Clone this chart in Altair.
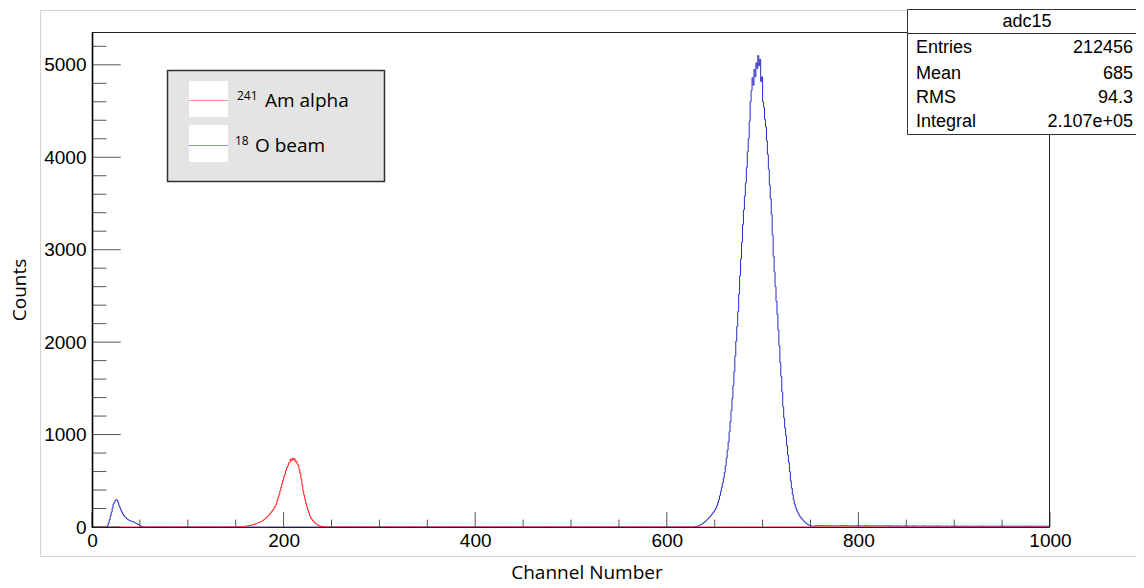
import altair as alt
import numpy as np
import pandas as pd

# ---------------- data ----------------
N_CH = 1000
X_MAX = 1000
Y_MAX = 5355

# 18O beam: small low-channel peak (starting at channel 14)
blue_low_start = 14
blue_low = [2, 6, 20, 45, 80, 120, 160, 205, 250, 270, 285, 295, 290, 260, 230, 205,
            180, 160, 140, 122, 110, 100, 90, 82, 75, 70, 66, 62, 58, 55, 50, 44, 38,
            32, 28, 22, 14, 7, 3]

# 18O beam: main peak (starting at channel 628)
blue_main_start = 628
blue_main = [2, 4, 6, 8, 11, 15, 19, 24, 30, 37,
             45, 54, 63, 72, 82, 92, 103, 115, 128, 142,
             156, 170, 186, 206, 230, 262, 296, 338, 385, 430,
             478, 530, 590, 665, 745, 830, 920, 1030, 1140, 1260,
             1390, 1530, 1680, 1850, 2010, 2170, 2330, 2520, 2720, 2900,
             3080, 3270, 3430, 3580, 3720, 3890, 4060, 4200, 4390, 4600,
             4720, 4860, 4780, 4950, 4870, 5020, 4960, 5100, 4990, 5060,
             4820, 4870, 4600, 4540, 4410, 4330, 4180, 4030, 3870, 3700,
             3550, 3380, 3160, 2930, 2760, 2600, 2440, 2300, 2130, 1960,
             1780, 1630, 1460, 1300, 1180, 1070, 990, 880, 780, 700,
             600, 500, 420, 350, 295, 250, 215, 190, 165, 145,
             125, 108, 96, 85, 72, 60, 50, 42, 34, 26,
             20, 16, 13, 11, 10, 9, 8]

# 18O beam: high-channel tail (starting at channel 755)
blue_tail_start = 755
blue_tail = [14, 12, 15, 11, 13, 12, 16, 10, 12, 14, 15, 11, 10, 13, 12, 15, 10, 12, 13, 11,
             10, 13, 12, 15, 11, 10, 13, 12, 14, 10, 11, 15, 12, 13, 10, 11, 14, 12, 10, 13,
             12, 10, 13, 11, 15, 12, 10, 13, 12, 11, 10, 14, 12, 15, 10, 11, 13, 10, 12, 13,
             11, 10, 13, 12, 10, 14, 11, 13, 10, 12, 11, 13, 10, 11, 14, 12, 10, 13, 11, 10,
             12, 11, 9, 11, 13, 9, 12, 10, 11, 9, 12, 10, 9, 13, 10, 11, 12, 9, 10, 9,
             10, 12, 9, 10, 13, 10, 9, 11, 10, 9, 10, 12, 9, 13, 10, 10, 9, 11, 10, 9,
             11, 10, 8, 10, 11, 8, 12, 10, 9, 8, 11, 10, 8, 9, 11, 8, 9, 12, 8, 9,
             9, 8, 11, 9, 8, 9, 12, 8, 10, 9, 8, 9, 11, 8, 9, 9, 11, 8, 10, 9,
             8, 9, 10, 8, 9, 11, 9, 8, 10, 9, 8, 9, 10, 9, 8, 11, 9, 8, 10, 9,
             9, 8, 10, 9, 11, 8, 9, 10, 8, 9, 9, 10, 8, 11, 9, 8, 10, 9, 8, 9,
             10, 8, 9, 11, 9, 8, 10, 9, 8, 9, 10, 8, 9, 11, 9, 8, 9, 10, 8, 9,
             9, 10, 8, 9, 11, 8, 9, 10, 9, 8, 9, 10, 8, 9, 11, 9, 8, 10, 9, 8,
             9, 10, 8, 9, 10]

# 241Am alpha peak (starting at channel 150)
red_start = 150
red_peak = [1, 1, 2, 2, 3, 3, 4, 5, 6, 7,
            8, 10, 12, 14, 16, 18, 20, 23, 26, 29,
            33, 37, 41, 45, 49, 53, 58, 64, 70, 78,
            86, 95, 104, 115, 126, 138, 150, 164, 178, 193,
            208, 225, 250, 285, 320, 350, 390, 430, 470, 505,
            545, 570, 610, 640, 660, 690, 700, 735, 720, 745,
            725, 738, 705, 712, 680, 665, 620, 580, 520, 455,
            390, 345, 300, 255, 218, 185, 155, 122, 100, 85,
            70, 58, 48, 38, 30, 24, 18, 13, 10, 7,
            5, 4, 3, 2, 1, 1]

x_major = [0, 200, 400, 600, 800, 1000]
x_minor = [v for v in range(50, 1000, 50) if v % 200 != 0]
y_major = [0, 1000, 2000, 3000, 4000, 5000]
y_minor = [v for v in range(200, 5400, 200) if v % 1000 != 0]

legend_labels = ["Am alpha", "O beam"]
legend_supers = ["241", "18"]
stats_title = "adc15"
stats_names = ["Entries", "Mean", "RMS", "Integral"]
stats_values = ["212456", "685", "94.3", "2.107e+05"]
x_title = "Channel Number"
y_title = "Counts"

# ---------------- build tables ----------------
ch = np.arange(N_CH + 1)
blue = np.zeros(N_CH + 1)
blue[blue_low_start:blue_low_start + len(blue_low)] = blue_low
blue[blue_main_start:blue_main_start + len(blue_main)] = blue_main
blue[blue_tail_start:blue_tail_start + len(blue_tail)] = blue_tail
blue[N_CH] = blue[N_CH - 1]
red = np.zeros(N_CH + 1)
red[red_start:red_start + len(red_peak)] = red_peak
red[N_CH] = red[N_CH - 1]
df_blue = pd.DataFrame({"ch": ch, "n": blue})
df_red = pd.DataFrame({"ch": ch, "n": red})

# ---------------- style ----------------
W, H = 958, 495
BLUE = "#2a2ac4"
RED = "#ff1a1a"
TICKFONT = "Liberation Sans"
TITLEFONT = "Open Sans"
TICKC = "#555555"

xs = alt.Scale(domain=[0, X_MAX], nice=False, zero=False)
ys = alt.Scale(domain=[0, Y_MAX], nice=False, zero=False)
xaxis = alt.Axis(values=x_major, title=None, ticks=False, domain=False, grid=False,
                 labelFont=TICKFONT, labelFontSize=19, labelColor="black",
                 labelPadding=4, labelFlush=False, format="d")
yaxis = alt.Axis(values=y_major, title=None, ticks=False, domain=False, grid=False,
                 labelFont=TICKFONT, labelFontSize=19, labelColor="black",
                 labelPadding=6, labelFlush=False, format="d")

one = pd.DataFrame({"k": [0]})


def txt(s, x, y, size, align="left", baseline="alphabetic", font=TICKFONT, angle=0):
    return alt.Chart(one).mark_text(text=s, align=align, baseline=baseline, font=font,
                                    fontSize=size, angle=angle, color="black").encode(
        x=alt.value(x), y=alt.value(y))


def box(x, x2, y, y2, fill, stroke, sw=1.0):
    return alt.Chart(one).mark_rect(fill=fill, stroke=stroke, strokeWidth=sw).encode(
        x=alt.value(x), x2=alt.value(x2), y=alt.value(y), y2=alt.value(y2))


def seg(x, x2, y, y2, color, sw=1.0):
    return alt.Chart(one).mark_rule(color=color, strokeWidth=sw).encode(
        x=alt.value(x), x2=alt.value(x2), y=alt.value(y), y2=alt.value(y2))


layers = []
# canvas border
CB = "#d4d4d4"
layers += [seg(-51.5, -51.5, -22, 524.5, CB), seg(-52, 816, -21.5, -21.5, CB),
           seg(-52, 1060, 524.5, 524.5, CB)]

# histograms
layers.append(alt.Chart(df_blue).mark_line(interpolate="step-after", color=BLUE, strokeWidth=1).encode(
    x=alt.X("ch:Q", scale=xs, axis=xaxis), y=alt.Y("n:Q", scale=ys, axis=yaxis)))
layers.append(alt.Chart(df_red).mark_line(interpolate="step-after", color=RED, strokeWidth=1).encode(
    x=alt.X("ch:Q", scale=xs, axis=xaxis), y=alt.Y("n:Q", scale=ys, axis=yaxis)))

# ticks (inside the frame, ROOT style)
layers.append(alt.Chart(pd.DataFrame({"v": y_major})).mark_rule(color=TICKC).encode(
    y=alt.Y("v:Q", scale=ys, axis=yaxis), x=alt.value(0), x2=alt.value(28.7)))
layers.append(alt.Chart(pd.DataFrame({"v": y_minor})).mark_rule(color=TICKC).encode(
    y=alt.Y("v:Q", scale=ys, axis=yaxis), x=alt.value(0), x2=alt.value(14.4)))
layers.append(alt.Chart(pd.DataFrame({"v": x_major})).mark_rule(color=TICKC).encode(
    x=alt.X("v:Q", scale=xs, axis=xaxis), y=alt.value(H), y2=alt.value(H - 14.9)))
layers.append(alt.Chart(pd.DataFrame({"v": x_minor})).mark_rule(color=TICKC).encode(
    x=alt.X("v:Q", scale=xs, axis=xaxis), y=alt.value(H), y2=alt.value(H - 7.4)))

# frame
layers.append(alt.Chart(one).mark_rect(fillOpacity=0, stroke="#222222", strokeWidth=1).encode(
    x=alt.value(0.5), x2=alt.value(W - 0.5), y=alt.value(0.5), y2=alt.value(H + 0.5)))
layers.append(seg(0.5, 0.5, 0, H + 1, "black", 1.6))

# legend
layers.append(box(75.5, 292.5, 38.5, 149.5, "#e4e4e4", "#333333", 1.5))
layers.append(box(97, 136, 49, 85, "white", "white", 0))
layers.append(box(97, 136, 93, 130, "white", "white", 0))
layers.append(seg(97, 136, 68.5, 68.5, "#ff8a8a", 1.2))
layers.append(seg(97, 136, 113.5, 113.5, "#8a8aff", 1.2))
layers.append(txt(legend_supers[0], 145, 68, 12, font=TITLEFONT))
layers.append(txt(legend_labels[0], 173, 75, 19, font=TITLEFONT))
layers.append(txt(legend_supers[1], 143, 113, 12, font=TITLEFONT))
layers.append(txt(legend_labels[1], 163, 120, 19, font=TITLEFONT))

# stats box
layers.append(box(815.5, 1062, -22.5, 102.5, "white", "#333333", 1))
layers.append(seg(815.5, 1062, 1.5, 1.5, "#333333", 1))
layers.append(txt(stats_title, 935, -10, 18, align="center", baseline="middle"))
row_y = [16, 41.5, 65.5, 89.5]
for name, val, yy in zip(stats_names, stats_values, row_y):
    layers.append(txt(name, 824, yy, 18, baseline="middle"))
    layers.append(txt(val, 1041, yy, 18, align="right", baseline="middle"))

# axis titles
layers.append(txt(y_title, -72, 258, 19, align="center", baseline="middle", font=TITLEFONT, angle=270))
layers.append(txt(x_title, 495, 547, 19, align="center", baseline="alphabetic", font=TITLEFONT))

chart = alt.layer(*layers).properties(
    width=W, height=H,
    padding={"left": 84, "top": 24, "right": 86, "bottom": 53},
    autosize=alt.AutoSizeParams(type="none"),
    background="white",
).configure_view(stroke=None)

chart.save("out.html", embed_options={"renderer": "svg", "actions": False})
